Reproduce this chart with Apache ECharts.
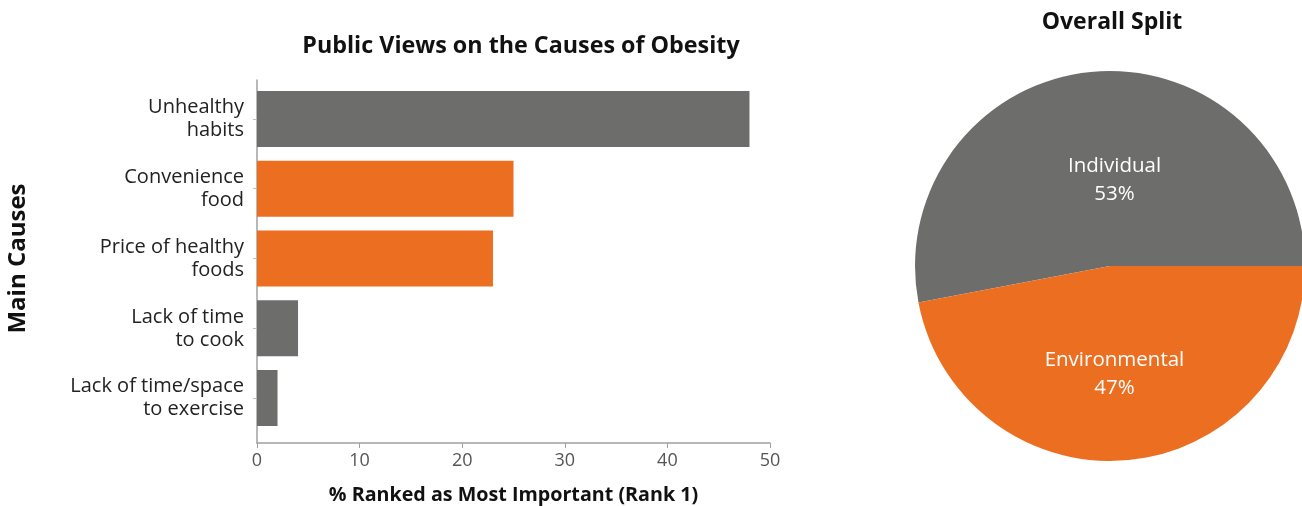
<!DOCTYPE html>
<html><head><meta charset="utf-8">
<script src="https://cdn.jsdelivr.net/npm/echarts@6/dist/echarts.min.js"></script>
<style>html,body{margin:0;padding:0;background:#fff}#c{width:1302px;height:506px}</style>
</head><body><div id="c"></div>
<script>
const categories = ['Unhealthy\nhabits','Convenience\nfood','Price of healthy\nfoods','Lack of time\nto cook','Lack of time/space\nto exercise'];
const values = [48, 25, 23, 4, 2];
const groups = ['Individual','Environmental','Environmental','Individual','Individual'];
const pieNames = ['Individual','Environmental'];
const pieValues = [53, 47];
const xTicks = [0,10,20,30,40,50];

const GRAY = '#6d6d6b', ORANGE = '#ec6f21';
const colorOf = g => g === 'Individual' ? GRAY : ORANGE;
const FONT = '"Open Sans", sans-serif';

const chart = echarts.init(document.getElementById('c'), null, {renderer:'canvas'});
chart.setOption({
  animation:false,
  textStyle:{fontFamily:FONT},
  title:[
    {text:'Public Views on the Causes of Obesity', left:516, top:30, textAlign:'center',
     textStyle:{fontFamily:FONT, fontWeight:'bold', fontSize:23.3, color:'#111'}},
    {text:'Overall Split', left:1107, top:6, textAlign:'center',
     textStyle:{fontFamily:FONT, fontWeight:'bold', fontSize:23, color:'#111'}}
  ],
  grid:[
    {left:257, width:513, top:84, height:349, outerBoundsMode:'none', containLabel:false},
    {left:257, width:513, top:80, height:363, outerBoundsMode:'none', containLabel:false}
  ],
  xAxis:[
    {gridIndex:0, type:'value', min:0, max:50, interval:10, show:false},
    {gridIndex:1, type:'value', min:xTicks[0], max:xTicks[xTicks.length-1], interval:10,
     axisLine:{show:true, lineStyle:{color:'#a0a0a0', width:1.5}},
     axisTick:{show:true, length:5, lineStyle:{color:'#a0a0a0'}},
     splitLine:{show:false},
     axisLabel:{fontSize:18, color:'#555', margin:9, fontFamily:FONT},
     name:'% Ranked as Most Important (Rank 1)', nameLocation:'middle', nameGap:42,
     nameTextStyle:{fontFamily:FONT, fontWeight:'bold', fontSize:19.7, color:'#111'}}
  ],
  yAxis:[
    {gridIndex:0, type:'category', data:categories, inverse:true,
     axisLine:{show:false},
     axisTick:{show:true, alignWithLabel:true, length:4, lineStyle:{color:'#c0c0c0'}},
     axisLabel:{fontSize:20, lineHeight:23, color:'#222', margin:13, fontFamily:FONT},
     name:'Main Causes', nameLocation:'middle', nameGap:227, nameRotate:90,
     nameTextStyle:{fontFamily:FONT, fontWeight:'bold', fontSize:24, color:'#111'}},
    {gridIndex:1, type:'value', min:0, max:1, show:true,
     axisLine:{show:true, lineStyle:{color:'#a0a0a0', width:1.5}},
     axisTick:{show:false}, axisLabel:{show:false}, splitLine:{show:false}}
  ],
  series:[
    {type:'bar', xAxisIndex:0, yAxisIndex:0, barWidth:56,
     data: values.map((v,i)=>({value:v, itemStyle:{color:colorOf(groups[i])}}))},
    {type:'pie', center:[1110,266], radius:195, startAngle:0, clockwise:false,
     data: pieNames.map((n,i)=>({name:n, value:pieValues[i], itemStyle:{color:i===0?GRAY:ORANGE}})),
     label:{show:true, position:'inside', formatter:'{b}\n{c}%', color:'#fff',
            fontSize:20.5, lineHeight:28, fontFamily:FONT},
     labelLayout: p => (p.dataIndex === 0 ? {dx:14, dy:14} : {dx:-5, dy:8}),
     labelLine:{show:false}, emphasis:{disabled:true}}
  ]
});
</script></body></html>
